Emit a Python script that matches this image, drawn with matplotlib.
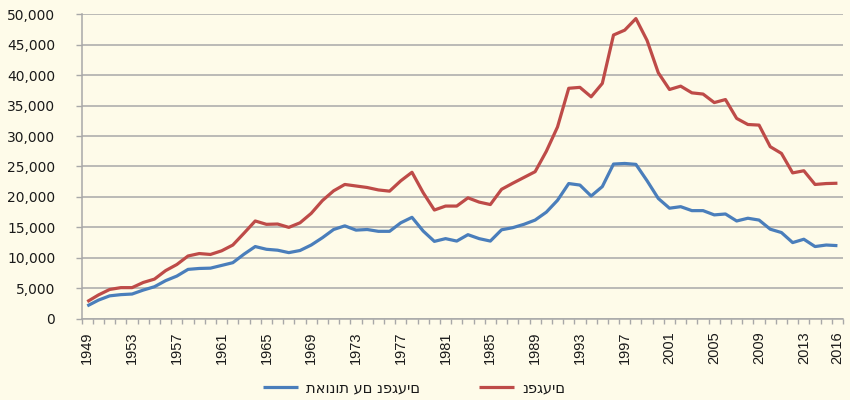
import matplotlib
matplotlib.use("Agg")
import matplotlib.pyplot as plt
from matplotlib.ticker import FuncFormatter

years = list(range(1949, 2017))

# injured people per year
injured = [2800, 3900, 4800, 5100, 5100, 5950, 6500, 7900, 8900, 10300,
           10700, 10550, 11150, 12100, 14050, 16050, 15500, 15550, 15000, 15750,
           17300, 19400, 21000, 22050, 21800, 21550, 21150, 20950, 22650, 24050,
           20700, 17850, 18500, 18500, 19850, 19150, 18750, 21250, 22250, 23200,
           24150, 27500, 31500, 37850, 38000, 36450, 38650, 46600, 47400, 49300,
           45700, 40400, 37650, 38200, 37100, 36900, 35500, 36000, 32900, 31900,
           31800, 28250, 27150, 23950, 24300, 22050, 22200, 22250]

# accidents with injuries per year
accidents = [2100, 3050, 3750, 3950, 4050, 4700, 5250, 6250, 7000, 8100,
             8250, 8300, 8750, 9200, 10600, 11850, 11400, 11250, 10850, 11200,
             12100, 13300, 14650, 15250, 14550, 14650, 14350, 14350, 15750, 16650,
             14400, 12700, 13150, 12750, 13800, 13150, 12750, 14600, 14950, 15500,
             16200, 17500, 19450, 22200, 21950, 20150, 21700, 25400, 25500, 25350,
             22650, 19750, 18150, 18400, 17750, 17750, 17050, 17200, 16050, 16500,
             16200, 14700, 14150, 12500, 13050, 11850, 12100, 12000]

label_accidents = "תאונות עם נפגעים"
label_injured = "נפגעים"

label_years = list(range(1949, 2014, 4)) + [2016]

bg = "#FEFBE9"
grid_c = "#A8A8A8"
blue = "#4A7EBB"
red = "#BE4B48"

fig = plt.figure(figsize=(8.5, 4), dpi=100, facecolor=bg)
ax = fig.add_axes([0.0961, 0.2033, 0.8957, 0.7609])
ax.set_facecolor(bg)

ax.plot(years, accidents, color=blue, lw=2.3, label=label_accidents,
        solid_joinstyle="round", solid_capstyle="butt")
ax.plot(years, injured, color=red, lw=2.3, label=label_injured,
        solid_joinstyle="round", solid_capstyle="butt")

ax.set_xlim(1948.5, 2016.5)
ax.set_ylim(0, 50000)
ax.set_yticks(range(0, 50001, 5000))
ax.yaxis.set_major_formatter(FuncFormatter(lambda v, p: f"{int(v):,}"))
ax.grid(axis="y", color=grid_c, lw=1.1)
ax.set_axisbelow(True)

# year labels at category centres, tick marks on category boundaries
ax.set_xticks(label_years)
ax.set_xticklabels([str(y) for y in label_years], rotation=90,
                   family="Liberation Sans", fontsize=10.5, color="#1a1a1a")
ax.set_xticks([y - 0.5 for y in years + [2017]], minor=True)
ax.tick_params(axis="x", which="major", length=0, pad=9)
ax.tick_params(axis="x", which="minor", length=3.5, width=1, color=grid_c)
ax.tick_params(axis="y", length=4, width=1, color=grid_c, pad=15,
               labelsize=10, labelcolor="#1a1a1a")

for side in ("top", "right"):
    ax.spines[side].set_visible(False)
for side in ("left", "bottom"):
    ax.spines[side].set_color(grid_c)
    ax.spines[side].set_linewidth(1.1)

leg = fig.legend(loc="center", bbox_to_anchor=(0.487, 0.03), ncol=2,
                 frameon=False, fontsize=10.5, handlelength=2.4,
                 columnspacing=4.0, handletextpad=0.6)
for t in leg.get_texts():
    t.set_color("#1a1a1a")

fig.savefig("out.png", dpi=100, facecolor=bg)
